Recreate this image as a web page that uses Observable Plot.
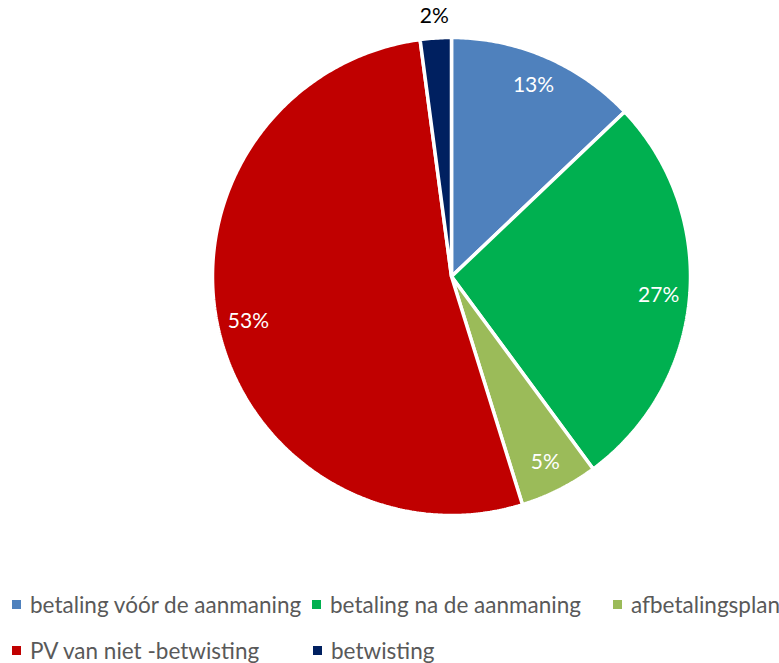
<!DOCTYPE html>
<html>
<head>
<meta charset="utf-8">
<script src="https://cdn.jsdelivr.net/npm/d3@7"></script>
<script src="https://cdn.jsdelivr.net/npm/@observablehq/plot@0.6"></script>
<style>
  body { margin: 0; background: #fff; font-family: Lato, "Open Sans", sans-serif; }
  #wrap { position: relative; width: 779px; height: 663px; }
  .legend { position: absolute; left: 0; top: 0; width: 779px; height: 663px; pointer-events: none; }
  .item { position: absolute; display: flex; align-items: center; font-size: 22.5px; color: #595959; white-space: nowrap; }
  .sw { width: 9px; height: 9px; margin-right: 9px; }
</style>
</head>
<body>
<div id="wrap"></div>
<script>
const categories = ["betaling vóór de aanmaning", "betaling na de aanmaning", "afbetalingsplan", "PV van niet -betwisting", "betwisting"];
const values = [12.9, 27.0, 5.3, 52.7, 2.1];
const colors = ["#4F81BD", "#00B050", "#9BBB59", "#C00000", "#002060"];
const labelColors = ["white", "white", "white", "white", "black"];
const labelRadius = [0.87, 0.87, 0.87, 0.87, 1.09];

const total = d3.sum(values);
const pie = d3.pie().sort(null).value(d => d)(values);

const slicePts = [];
pie.forEach((p, i) => {
  slicePts.push({name: categories[i], x: 0, y: 0});
  const n = Math.max(4, Math.ceil((p.endAngle - p.startAngle) / 0.01));
  for (let k = 0; k <= n; k++) {
    const a = p.startAngle + (p.endAngle - p.startAngle) * k / n;
    slicePts.push({name: categories[i], x: Math.sin(a), y: Math.cos(a)});
  }
});

const labels = pie.map((p, i) => {
  const a = (p.startAngle + p.endAngle) / 2;
  return {name: categories[i], x: Math.sin(a) * labelRadius[i], y: Math.cos(a) * labelRadius[i],
          text: Math.round(values[i] / total * 100) + "%", color: labelColors[i]};
});

const chart = Plot.plot({
  width: 779,
  height: 580,
  margin: 0,
  x: {domain: [-1, 1], range: [451 - 239, 451 + 239], axis: null},
  y: {domain: [-1, 1], range: [276 + 239, 276 - 239], axis: null},
  color: {domain: categories, range: colors},
  style: {fontFamily: "Lato, 'Open Sans', sans-serif", background: "white"},
  marks: [
    Plot.line(slicePts, {x: "x", y: "y", z: "name", fill: "name", stroke: "white", strokeWidth: 3.5, strokeLinejoin: "miter", curve: "linear-closed"}),
    Plot.text(labels, {x: "x", y: "y", text: "text", fill: d => d.color, fontSize: 21})
  ]
});
document.getElementById("wrap").appendChild(chart);

const legendPos = [[12, 606], [312, 606], [613, 606], [12, 652], [313, 652]];
const leg = document.createElement("div");
leg.className = "legend";
categories.forEach((c, i) => {
  const it = document.createElement("div");
  it.className = "item";
  it.style.left = legendPos[i][0] + "px";
  it.style.top = (legendPos[i][1] - 15) + "px";
  const sw = document.createElement("span");
  sw.className = "sw";
  sw.style.background = colors[i];
  const t = document.createElement("span");
  t.textContent = c;
  it.appendChild(sw); it.appendChild(t);
  leg.appendChild(it);
});
document.getElementById("wrap").appendChild(leg);
</script>
</body>
</html>
